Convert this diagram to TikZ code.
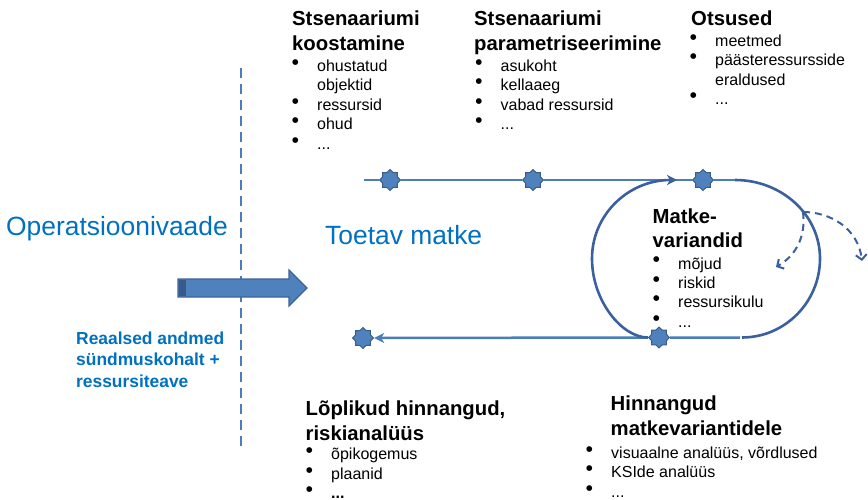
\documentclass[tikz,border=0pt]{standalone}
\usepackage{fontspec}
\setmainfont{Liberation Sans}
\newfontfamily\dotfont{DejaVu Sans}
\usetikzlibrary{shapes.geometric,arrows.meta}

\definecolor{txtblue}{RGB}{0,112,192}
\definecolor{flow}{RGB}{74,126,187}
\definecolor{loopc}{RGB}{58,96,158}
\definecolor{starfill}{RGB}{79,129,189}
\definecolor{stardraw}{RGB}{56,93,138}
\definecolor{arrowedge}{RGB}{61,100,150}
\definecolor{arrowdark}{RGB}{55,90,140}

% bullet lists and text blocks
\newcommand\bul{\raisebox{7pt}{\dotfont\fontsize{7.5}{7.5}\selectfont ●}}
\newcommand\itm[1]{\makebox[25pt][l]{\bul}#1}
\newcommand\itc[1]{\hspace*{25pt}#1}
\newcommand\blk[1]{\parbox[t]{320pt}{\raggedright #1}}

\tikzset{
  head/.style={anchor=base west, inner sep=0pt, font=\bfseries\fontsize{20.3}{24.5}\selectfont},
  items/.style={anchor=base west, inner sep=0pt, font=\fontsize{16}{19.5}\selectfont},
  bluelabel/.style={anchor=base west, inner sep=0pt, text=txtblue, font=\fontsize{26.4}{30}\selectfont},
  marker/.style={star, star points=8, star point ratio=1.3, minimum size=21pt,
                 inner sep=0pt, fill=starfill, draw=stardraw, line width=1pt},
  flowline/.style={draw=flow, line width=2.5pt},
  loopline/.style={draw=loopc, line width=2.6pt},
  dashline/.style={draw=loopc, line width=2pt, dash pattern=on 7pt off 5pt},
  divider/.style={draw=flow, line width=1.5pt, dash pattern=on 10pt off 6pt},
  tip/.style={-{Stealth[length=10pt,width=10pt,inset=3pt]}},
  opentip/.style={-{Straight Barb[length=5pt,width=11pt]}}
}

\begin{document}
\begin{tikzpicture}[x=1pt,y=-1pt]
\useasboundingbox (0,0) rectangle (868,500);

% divider between the two views
\coordinate (vtop) at (241,68);
\coordinate (vbot) at (241,452);
\draw[divider] (vtop) -- (vbot);

% left side labels
\node[bluelabel] (opv) at (6,236) {Operatsioonivaade};
\node[anchor=base west, inner sep=0pt, text=txtblue,
      font=\bfseries\fontsize{17.4}{21.5}\selectfont] (real) at (76,344)
      {\blk{Reaalsed andmed\\sündmuskohalt +\\ressursiteave}};
\node[bluelabel] (toetav) at (325,244) {Toetav matke};

% block arrow from the operational view
\filldraw[fill=starfill, draw=arrowedge, line width=1.2pt]
  (178,279) -- (289,279) -- (289,270) -- (307,288) -- (289,306) -- (289,297) -- (178,297) -- cycle;
\fill[arrowdark] (178.6,279.6) rectangle (186,296.4);

% process markers
\node[marker] (s1) at (390,180) {};
\node[marker] (s2) at (533,180) {};
\node[marker] (s3) at (703,180) {};
\node[marker] (s4) at (659,337.5) {};
\node[marker] (s5) at (363,338) {};

\coordinate (tstart) at (364,180);
\coordinate (tend) at (735,180);
\coordinate (ltip) at (677,180);
\coordinate (bstart) at (740,337.5);
\coordinate (rend) at (742,337.5);

% upper flow
\draw[flowline] (tstart) -- (s1) -- (s2) -- (s3) -- (tend);
% lower flow back to the start
\draw[flowline, tip] (bstart) -- (s4) -- (s5);

% variant loop
\draw[loopline, tip] (s4) .. controls (622,337.5) and (592,301) .. (592,258.5)
   .. controls (592,215) and (628,180) .. (ltip);
\draw[loopline] (tend) .. controls (782,180) and (820,215) .. (820,258.5)
   .. controls (820,302) and (785,337.5) .. (rend);

% dashed branches
\coordinate (dsrc) at (803,212);
\coordinate (dtipA) at (776,267);
\coordinate (dtipB) at (862,261);
\draw[dashline, opentip] (dsrc) .. controls (806,235) and (797,255) .. (dtipA);
\draw[dashline, opentip] (dsrc) .. controls (830,212) and (858,228) .. (dtipB);

% text blocks
\node[head] (h1) at (292,26) {\blk{Stsenaariumi\\koostamine}};
\node[items] (i1) at (292,71.5) {\blk{\itm{ohustatud}\\\itc{objektid}\\\itm{ressursid}\\\itm{ohud}\\\itm{...}}};

\node[head] (h2) at (474,26) {\blk{Stsenaariumi\\parametriseerimine}};
\node[items] (i2) at (475.5,71.5) {\blk{\itm{asukoht}\\\itm{kellaaeg}\\\itm{vabad ressursid}\\\itm{...}}};

\node[head] (h3) at (691,26) {\blk{Otsused}};
\node[items] (i3) at (690,46.5) {\blk{\itm{meetmed}\\\itm{päästeressursside}\\\itc{eraldused}\\\itm{...}}};

\node[head] (h4) at (652.5,223.3) {\blk{Matke-\\variandid}};
\node[items] (i4) at (653,269) {\blk{\itm{mõjud}\\\itm{riskid}\\\itm{ressursikulu}\\\itm{...}}};

\node[head] (h5) at (305.5,415.5) {\blk{Lõplikud hinnangud,\\riskianalüüs}};
\node[items] (i5) at (306,459.5) {\blk{\itm{õpikogemus}\\\itm{plaanid}\\\itm{\textbf{...}}}};

\node[head] (h6) at (610.5,410.5) {\blk{Hinnangud\\matkevariantidele}};
\node[items] (i6) at (586,458) {\blk{\itm{visuaalne analüüs, võrdlused}\\\itm{KSIde analüüs}\\\itm{...}}};

\end{tikzpicture}
\end{document}
